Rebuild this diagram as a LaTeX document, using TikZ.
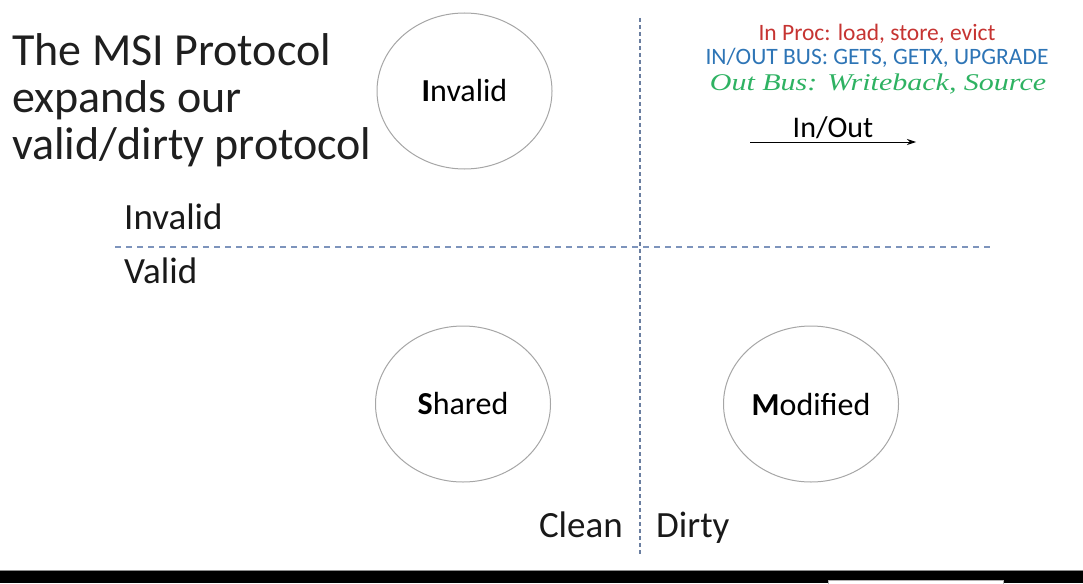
\documentclass[tikz,border=0pt]{standalone}
\usepackage{fontspec}
\setmainfont{Carlito}
\newfontfamily\callig{Liberation Serif}
\usepackage{tikz}
\usetikzlibrary{shapes.geometric,positioning,arrows.meta}
\definecolor{procred}{RGB}{198,52,50}
\definecolor{busblue}{RGB}{46,117,182}
\definecolor{outgreen}{RGB}{46,178,98}
\definecolor{dashblue}{RGB}{125,148,188}
\tikzset{
  state/.style={ellipse,draw=black!35,line width=1pt,minimum width=175pt,minimum height=156pt,inner sep=0pt,font=\fontsize{32}{36}\selectfont},
  headline/.style={inner sep=0pt,anchor=base west,text=black!88,font=\fontsize{46}{48}\selectfont},
  sidelabel/.style={inner sep=0pt,anchor=base west,text=black!90,font=\fontsize{37}{40}\selectfont},
  legend/.style={inner sep=0pt,anchor=base,font=\fontsize{23.5}{26}\selectfont},
  divider/.style={dashblue,line width=1.5pt,dash pattern=on 6pt off 5pt},
}

\begin{document}
\begin{tikzpicture}[x=1pt,y=1pt,node distance=156pt]
    \useasboundingbox (0,0) rectangle (1083,-583);

    \node[headline] (title1) at (12,-66) {The MSI Protocol};
    \node[headline] (title2) at (12,-113) {expands our};
    \node[headline] (title3) at (12,-159) {valid/dirty protocol};

    \node[state] (shared) at (463,-404) {\textbf{S}hared};
    \node[state] (invalid) [above= of shared, xshift=1.5pt] {\textbf{I}nvalid};
    \node[state] (modified) [right=172pt of shared] {\textbf{M}odified};

    \node[sidelabel] (invalid_side) at (124,-229) {Invalid};
    \node[sidelabel] (valid_side) [below=54pt of invalid_side.base west, anchor=base west] {Valid};
    \node[sidelabel, anchor=base east] (clean) at (623,-537) {Clean};
    \node[sidelabel] (dirty) [right=33pt of clean.base east, anchor=base west] {Dirty};

    \node[legend, text=procred] (proc) at (877,-41) {In Proc: load, store, evict};
    \node[legend, text=busblue] (bus) at (877,-65) {IN/OUT BUS: GETS, GETX, UPGRADE};
    \node[legend, text=outgreen, xscale=1.25, font=\fontsize{24}{26}\selectfont\callig\itshape] (outbus) at (878,-91) {Out Bus: Writeback, Source};

    % dividers
    \coordinate (vtop) at (640,-18);
    \coordinate (vbot) at (640,-556);
    \coordinate (hleft) at (115,-247);
    \coordinate (hright) at (993,-247);
    \draw[divider] (hleft) -- (hright);
    \draw[divider, dash pattern=on 4pt off 3pt, dashblue!85!black] (vtop) -- (vbot);

    % in/out arrow
    \coordinate (arrow_tail) at (750,-142);
    \coordinate (arrow_head) at (916,-142);
    \draw[line width=0.9pt, -{Stealth[length=9pt,width=6pt]}] (arrow_tail) -- (arrow_head)
        node[midway, anchor=base, yshift=5pt, inner sep=0pt, font=\fontsize{30}{32}\selectfont] (inout) {In/Out};

    % player bar
    \fill[black!45] (0,-569.5) rectangle (1083,-571);
    \fill[black] (0,-571) rectangle (1083,-583);
    \filldraw[fill=white, draw=black!30] (828,-580) rectangle (1003,-584);
\end{tikzpicture}
\end{document}
